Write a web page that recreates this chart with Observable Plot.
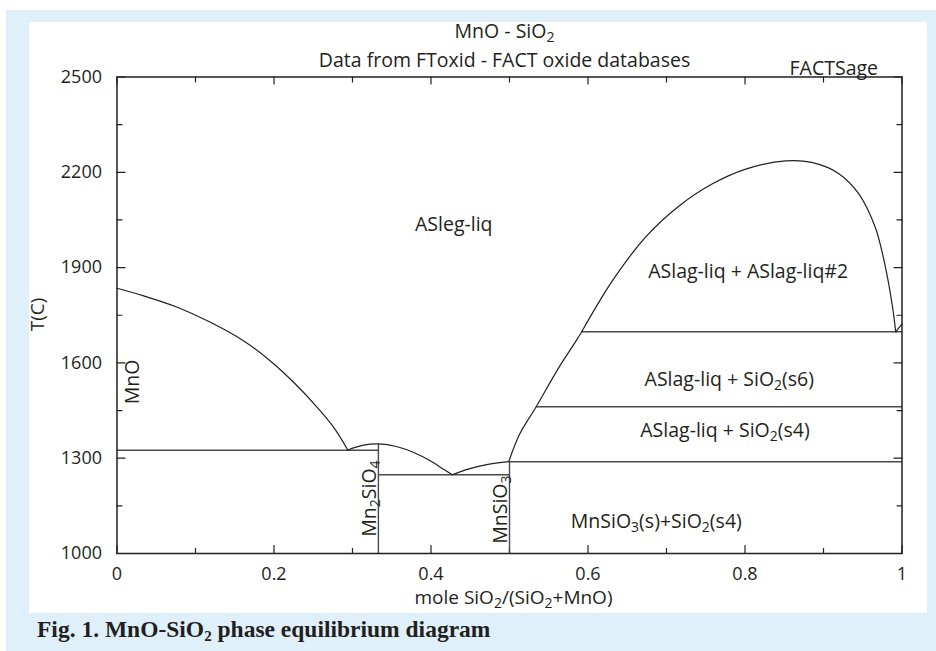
<!DOCTYPE html>
<html>
<head>
<meta charset="utf-8">
<script src="https://cdn.jsdelivr.net/npm/d3@7"></script>
<script src="https://cdn.jsdelivr.net/npm/@observablehq/plot@0.6"></script>
<style>
  body { margin: 0; background: #ffffff; }
  #page { position: relative; width: 936px; height: 651px; overflow: hidden; color: #231f20; }
  #bg { position: absolute; left: 6px; top: 10px; right: 0; bottom: 0; background: #dff0fa; }
  #panel { position: absolute; left: 29px; top: 22px; width: 898px; height: 591px; background: #ffffff; }
  #chart { position: absolute; left: 29px; top: 22px; }
  #cap { position: absolute; left: 37px; top: 618px; font-family: "Liberation Serif", serif; font-weight: bold;
         font-size: 23.5px; line-height: 23px; white-space: nowrap; color: #231f20; }
  #cap sub { font-size: 15px; vertical-align: -4px; line-height: 0; }
</style>
</head>
<body>
<div id="page">
  <div id="bg"></div>
  <div id="panel"></div>
  <div id="chart"></div>
  <div id="cap">Fig. 1. MnO-SiO<sub>2</sub> phase equilibrium diagram</div>
</div>
<script>
// ---------- data (mole fraction SiO2, temperature °C) ----------
const liqMnO_x = [0, 0.034, 0.076, 0.119, 0.161, 0.195, 0.225, 0.255, 0.276, 0.294];
const liqMnO_T = [1835, 1811, 1776, 1728, 1670, 1607, 1539, 1460, 1397, 1326];

const liqMn2SiO4_x = [0.294, 0.314, 0.333, 0.357, 0.378, 0.399, 0.416, 0.427];
const liqMn2SiO4_T = [1326, 1341, 1345, 1336, 1318, 1292, 1265, 1248];

const liqMnSiO3_x = [0.427, 0.446, 0.471, 0.499];
const liqMnSiO3_T = [1248, 1265, 1280, 1289];

const liqSiO2_x = [0.499, 0.513, 0.534, 0.563, 0.585, 0.592];
const liqSiO2_T = [1289, 1376, 1462, 1586, 1670, 1698];

const gap_x = [0.592, 0.631, 0.673, 0.716, 0.758, 0.801, 0.852, 0.885, 0.920, 0.945, 0.966, 0.979, 0.988, 0.992];
const gap_T = [1698, 1858, 1995, 2094, 2163, 2210, 2236, 2231, 2195, 2132, 2026, 1900, 1775, 1698];

const liqEnd_x = [0.992, 1.0];
const liqEnd_T = [1698, 1723];

// isotherms
const iso_x1 = [0, 0.333, 0.5, 0.534, 0.592];
const iso_x2 = [0.333, 0.5, 1, 1, 1];
const iso_T  = [1325, 1248, 1289, 1462, 1698];

// compound lines
const cmp_x  = [0.333, 0.5];
const cmp_T1 = [1000, 1000];
const cmp_T2 = [1345, 1289];

// region labels
const reg_text = ["ASleg-liq", "ASlag-liq + ASlag-liq#2", "ASlag-liq + SiO_2(s6)", "ASlag-liq + SiO_2(s4)", "MnSiO_3(s)+SiO_2(s4)"];
const reg_x = [0.429, 0.804, 0.780, 0.7745, 0.687];
const reg_T = [2035, 1888, 1547, 1385, 1100];

// vertical (rotated) labels
const vlab_text = ["MnO", "Mn_2SiO_4", "MnSiO_3"];
const vlab_x = [0.0197, 0.3217, 0.4894];
const vlab_T = [1540, 1173, 1138];

// ticks
const xLabelTicks = [0, 0.2, 0.4, 0.6, 0.8, 1];
const xMinorTicks = [0.1, 0.3, 0.5, 0.7, 0.9];
const yLabelTicks = [1000, 1300, 1600, 1900, 2200, 2500];
const yMinorTicks = [1150, 1450, 1750, 2050, 2350];

const title1 = "MnO - SiO_2";
const title2 = "Data from FToxid - FACT oxide databases";
const brand = "FACTSage";
const xTitle = "mole SiO_2/(SiO_2+MnO)";
const yTitle = "T(C)";

// ---------- build ----------
const pts = (xs, ts) => xs.map((x, i) => ({x, T: ts[i]}));
const curves = [
  pts(liqMnO_x, liqMnO_T),
  pts(liqMn2SiO4_x, liqMn2SiO4_T),
  pts(liqMnSiO3_x, liqMnSiO3_T),
  pts(liqSiO2_x, liqSiO2_T),
  pts(gap_x, gap_T),
  pts(liqEnd_x, liqEnd_T)
];
const isotherms = iso_T.map((T, i) => ({x1: iso_x1[i], x2: iso_x2[i], T}));
const compounds = cmp_x.map((x, i) => ({x, T1: cmp_T1[i], T2: cmp_T2[i]}));
const regions = reg_text.map((t, i) => ({t, x: reg_x[i], T: reg_T[i]}));
const vlabels = vlab_text.map((t, i) => ({t, x: vlab_x[i], T: vlab_T[i]}));

const ink = "#231f20";
const tickShape = {draw(ctx, l) { ctx.moveTo(0, 0); ctx.lineTo(0, -l); }};
const tickMarks = (vals, len, fx, fy, rot) =>
  Plot.vector(vals, {x: fx, y: fy, length: len, rotate: rot, anchor: "start", shape: tickShape, stroke: ink, strokeWidth: 1.2});

const marks = [
  // inward ticks on all four sides
  tickMarks(xLabelTicks, 8, d => d, () => 1000, 0),
  tickMarks(xMinorTicks, 5, d => d, () => 1000, 0),
  tickMarks(xLabelTicks, 7, d => d, () => 2500, 180),
  tickMarks(xMinorTicks, 5, d => d, () => 2500, 180),
  tickMarks(yLabelTicks, 8, () => 0, d => d, 90),
  tickMarks(yMinorTicks, 5, () => 0, d => d, 90),
  tickMarks(yLabelTicks, 8, () => 1, d => d, 270),
  tickMarks(yMinorTicks, 5, () => 1, d => d, 270),
  // isotherms and compound verticals
  Plot.link(isotherms, {x1: "x1", x2: "x2", y1: "T", y2: "T", stroke: "#4a4a4a", strokeWidth: 1.4}),
  Plot.link(compounds, {x1: "x", x2: "x", y1: "T1", y2: "T2", stroke: "#4a4a4a", strokeWidth: 1.4}),
  // phase boundaries
  ...curves.map(c => Plot.line(c, {x: "x", y: "T", curve: "catmull-rom", stroke: ink, strokeWidth: 1.2})),
  Plot.frame({stroke: ink, strokeWidth: 1.5}),
  // axes
  Plot.axisX(xLabelTicks, {anchor: "bottom", tickSize: 0, tickPadding: 14, tickFormat: d => String(d), fontSize: 18, label: null}),
  Plot.axisY(yLabelTicks, {anchor: "left", tickSize: 0, tickPadding: 15, tickFormat: d => String(d), fontSize: 18, label: null}),
  // labels
  Plot.text(regions, {x: "x", y: "T", text: "t", fontSize: 19.5, fill: ink}),
  Plot.text(vlabels, {x: "x", y: "T", text: "t", fontSize: 19.5, rotate: -90, fill: ink}),
  Plot.text([title1], {frameAnchor: "top", text: d => d, dx: -5, dy: -53, fontSize: 19.5, fill: ink}),
  Plot.text([title2], {frameAnchor: "top", text: d => d, dx: -5, dy: -24, fontSize: 19.5, fill: ink}),
  Plot.text([brand], {frameAnchor: "top-right", text: d => d, textAnchor: "end", dx: -24, dy: -16, fontSize: 19.5, fill: ink}),
  Plot.text([xTitle], {frameAnchor: "bottom", text: d => d, dx: 4, dy: 50, fontSize: 19, fill: ink}),
  Plot.text([yTitle], {frameAnchor: "left", text: d => d, rotate: -90, dx: -79, dy: 16, fontSize: 19, fill: ink})
];

const chart = Plot.plot({
  width: 898,
  height: 591,
  marginLeft: 87.5,
  marginRight: 25.5,
  marginTop: 54.5,
  marginBottom: 60,
  x: {domain: [0, 1]},
  y: {domain: [1000, 2500]},
  style: {fontFamily: "'Open Sans', sans-serif", fontSize: "18px", color: ink, background: "transparent", overflow: "visible"},
  marks
});

// subscripts: "_d" -> lowered small digit
const NS = "http://www.w3.org/2000/svg";
chart.querySelectorAll("text").forEach(el => {
  const s = el.textContent;
  if (!s.includes("_")) return;
  const parts = s.split(/_(\d)/);
  el.textContent = "";
  let lowered = false;
  parts.forEach((p, i) => {
    if (p === "") return;
    const t = document.createElementNS(NS, "tspan");
    t.textContent = p;
    if (i % 2 === 1) {
      t.setAttribute("font-size", "14px");
      t.setAttribute("dy", "4");
      lowered = true;
    } else if (lowered) {
      t.setAttribute("dy", "-4");
      lowered = false;
    }
    el.appendChild(t);
  });
});

document.getElementById("chart").appendChild(chart);
</script>
</body>
</html>
